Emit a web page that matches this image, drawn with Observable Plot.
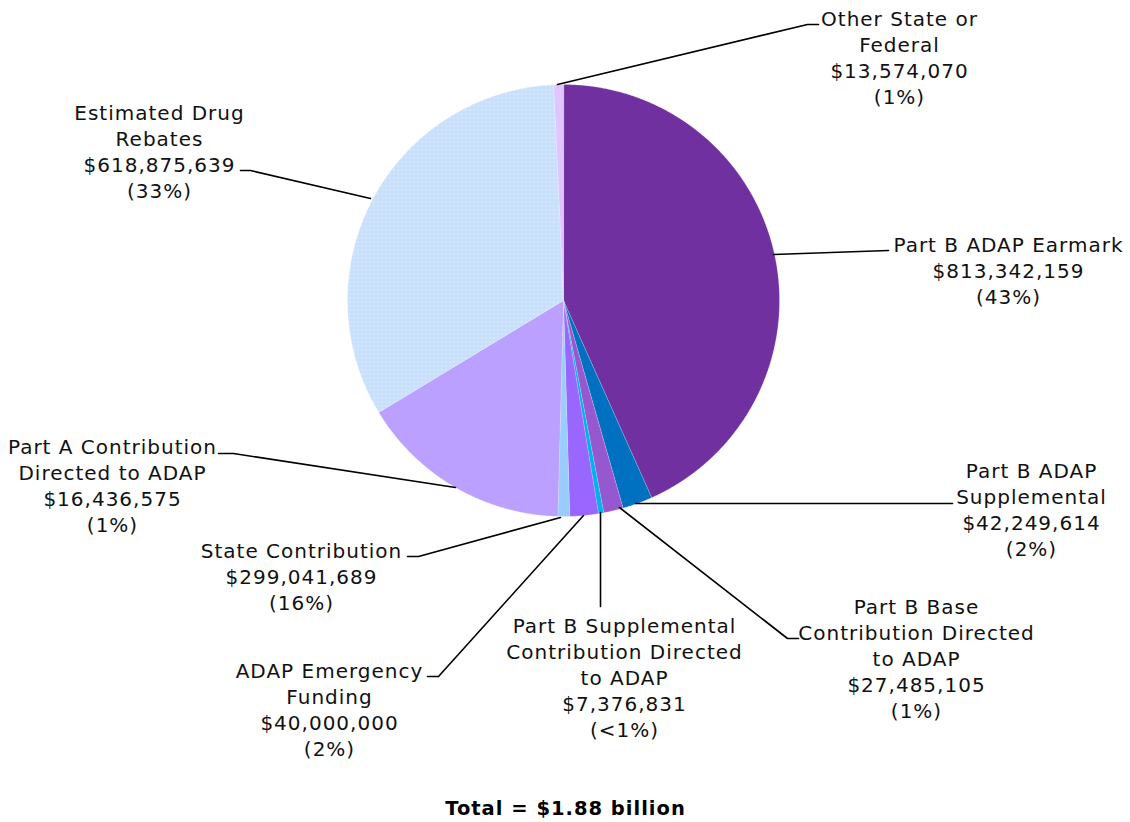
<!DOCTYPE html>
<html>
<head>
<meta charset="utf-8">
<script src="https://cdn.jsdelivr.net/npm/d3@7"></script>
<script src="https://cdn.jsdelivr.net/npm/@observablehq/plot@0.6"></script>
<style>
  html, body { margin: 0; padding: 0; background: #fff; }
  #chart svg { display: block; }
  #chart svg text { letter-spacing: 1px; }
</style>
</head>
<body>
<div id="chart"></div>
<script>
// ---- Data ----
const categories = [
  "Part B ADAP Earmark",
  "Part B ADAP\nSupplemental",
  "Part B Base\nContribution Directed\nto ADAP",
  "Part B Supplemental\nContribution Directed\nto ADAP",
  "ADAP Emergency\nFunding",
  "Part A Contribution\nDirected to ADAP",
  "State Contribution",
  "Estimated Drug\nRebates",
  "Other State or\nFederal"
];
const values = [813342159, 42249614, 27485105, 7376831, 40000000, 16436575, 299041689, 618875639, 13574070];
const colors = ["#7030A0", "#0070C0", "#9658CE", "#00B0F0", "#9966FF", "#99CCFF", "#BBA0FF", "url(#dots)", "#E0C6FF"];
const totalLabel = "Total = $1.88 billion";

// ---- Layout (pixel positions of labels / leader lines) ----
const center = [563, 300];
const radius = 216;
const labelPos = [ // [x, y] centre of text block
  [1008, 269], [1031, 508], [916, 657], [624, 676], [329, 708],
  [112, 484], [301, 575], [159, 150], [899, 56]
];
const leaders = [ // polyline points
  [[773, 254], [888, 250]],
  [[635, 503], [952, 503]],
  [[619, 507], [787, 638], [798, 638]],
  [[600, 512], [600, 606]],
  [[583, 515], [438, 676], [427, 676]],
  [[560, 517], [418, 556], [407, 556]],
  [[455, 487], [233, 453], [218, 453]],
  [[370, 198], [250, 170], [240, 170]],
  [[557, 84], [807, 24], [818, 24]]
];

// ---- Derived ----
const total = d3.sum(values);
const pct = v => { const p = v / total * 100; return Math.round(p) < 1 ? "(<1%)" : `(${Math.round(p)}%)`; };
const fmt = d3.format(",");
const pie = d3.pie().sort(null).startAngle(0).endAngle(2 * Math.PI)(values);

const slicePts = pie.map((s, i) => {
  const pts = [{x: center[0], y: center[1], i}];
  const n = Math.max(2, Math.ceil((s.endAngle - s.startAngle) / 0.005));
  for (let k = 0; k <= n; k++) {
    const a = s.startAngle + (s.endAngle - s.startAngle) * k / n;
    pts.push({x: center[0] + radius * Math.sin(a), y: center[1] - radius * Math.cos(a), i});
  }
  return pts;
});

const labels = categories.map((c, i) => ({
  x: labelPos[i][0], y: labelPos[i][1],
  text: `${c}\n$${fmt(values[i])}\n${pct(values[i])}`
}));

const leaderData = leaders.flatMap((pts, i) => pts.map(p => ({x: p[0], y: p[1], i})));

const marks = [
  ...slicePts.map((pts, i) => Plot.line(pts, {x: "x", y: "y", fill: colors[i], stroke: "#ffffff", strokeOpacity: 0.35, strokeWidth: 0.6, curve: "linear-closed"})),
  Plot.line(leaderData, {x: "x", y: "y", z: "i", stroke: "#000", strokeWidth: 1.6}),
  Plot.text(labels, {x: "x", y: "y", text: "text", fontSize: 20, lineHeight: 1.3, lineAnchor: "middle", textAnchor: "middle", fill: "#111"}),
  Plot.text([{x: 565, y: 808, t: totalLabel}], {x: "x", y: "y", text: "t", fontSize: 19.5, fontWeight: "bold", textAnchor: "middle", fill: "#000"})
];

const chart = Plot.plot({
  width: 1130, height: 822,
  margin: 0,
  x: {domain: [0, 1130], range: [0, 1130], axis: null},
  y: {domain: [0, 822], range: [0, 822], axis: null},
  style: {fontFamily: "'DejaVu Sans', Verdana, sans-serif", background: "#fff"},
  marks
});

// dotted pattern for rebates slice
const ns = "http://www.w3.org/2000/svg";
const defs = document.createElementNS(ns, "defs");
defs.innerHTML = `<pattern id="dots" width="4" height="4" patternUnits="userSpaceOnUse">
  <rect width="4" height="4" fill="#C8E0FC"/>
  <rect x="1" y="1" width="1" height="1" fill="#EEF6FF"/>
</pattern>`;
chart.insertBefore(defs, chart.firstChild);

document.getElementById("chart").appendChild(chart);
</script>
</body>
</html>
